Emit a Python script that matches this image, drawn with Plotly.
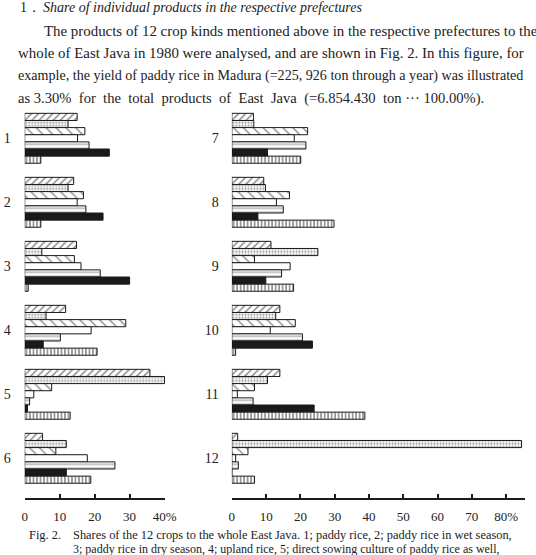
import plotly.graph_objects as go

W, H = 536, 555

# ---- data (percent share of East Java total), 12 crops x 7 bars ----
crops = ["1", "2", "3", "4", "5", "6", "7", "8", "9", "10", "11", "12"]
series_names = ["Pref. 1", "Pref. 2", "Pref. 3", "Pref. 4", "Pref. 5", "Pref. 6", "Pref. 7"]
s1 = [15.0, 14.0, 14.8, 11.7, 35.8, 5.1, 6.3, 9.3, 11.4, 14.0, 14.0, 1.7]
s2 = [12.4, 12.4, 4.9, 6.1, 40.0, 11.9, 6.4, 9.8, 25.1, 12.8, 10.4, 84.5]
s3 = [17.2, 16.8, 14.2, 28.9, 7.7, 8.9, 22.1, 16.8, 6.6, 18.5, 6.6, 4.7]
s4 = [15.1, 15.0, 16.1, 19.0, 2.6, 17.9, 18.2, 13.0, 17.0, 11.2, 1.6, 1.1]
s5 = [18.4, 17.5, 21.6, 10.2, 1.4, 25.8, 21.6, 15.0, 14.5, 20.6, 6.2, 1.9]
s6 = [24.2, 22.4, 30.0, 5.3, 0.8, 11.9, 10.4, 7.6, 9.9, 23.5, 24.0, 0.0]
s7 = [4.6, 4.6, 1.0, 20.7, 13.0, 18.9, 20.1, 29.8, 18.0, 1.1, 38.8, 6.6]
series = [s1, s2, s3, s4, s5, s6, s7]

left_ticks = [0, 10, 20, 30, 40]
left_ticktext = ["0", "10", "20", "30", "40%"]
right_ticks = [0, 10, 20, 30, 40, 50, 60, 70, 80]
right_ticktext = ["0", "10", "20", "30", "40", "50", "60", "70", "80%"]

# ---- styles ----
INK = "#1a1a1a"
styles = [
    dict(color="white", pattern=dict(shape="/", size=5, solidity=0.3, fgcolor=INK, bgcolor="white")),
    dict(color="white", pattern=dict(shape=".", size=3, solidity=0.35, fgcolor=INK, bgcolor="white")),
    dict(color="white", pattern=dict(shape="\\", size=7, solidity=0.2, fgcolor=INK, bgcolor="white")),
    dict(color="white"),
    dict(color="white", pattern=dict(shape="-", size=4, solidity=0.25, fgcolor=INK, bgcolor="white")),
    dict(color=INK),
    dict(color="white", pattern=dict(shape="|", size=3.5, solidity=0.45, fgcolor=INK, bgcolor="white")),
]

fig = go.Figure()
for panel, (xa, ya, lo, hi) in enumerate([("x", "y", 0, 6), ("x2", "y2", 6, 12)]):
    for name, vals, st in zip(series_names, series, styles):
        fig.add_trace(go.Bar(
            x=vals[lo:hi], y=crops[lo:hi], orientation="h", name=name,
            xaxis=xa, yaxis=ya, showlegend=False,
            marker=dict(line=dict(color=INK, width=1), **st),
        ))

def px(x):
    return x / W

def py(y):
    return 1 - y / H

serif = "Liberation Serif, Times New Roman, serif"
ydom = [py(490.3), py(106.3)]
axis_y = py(499)

fig.update_layout(
    width=W, height=H,
    margin=dict(l=0, r=0, t=0, b=0),
    paper_bgcolor="white", plot_bgcolor="white",
    barmode="group", bargap=0.22, bargroupgap=0.0,
    font=dict(family=serif, color="#222222"),
    xaxis=dict(domain=[px(22.3), px(22.3 + 40.25 * 3.59)], range=[0, 40.25],
               anchor="free", position=axis_y,
               showline=True, linecolor=INK, linewidth=1.5,
               ticks="inside", ticklen=4, tickwidth=1.5, tickcolor=INK,
               tickvals=left_ticks, ticktext=left_ticktext,
               tickfont=dict(size=13, family=serif, color="#222222"),
               ticklabelstandoff=6,
               showgrid=False, zeroline=False),
    yaxis=dict(domain=ydom, categoryorder="array", categoryarray=crops[0:6],
               range=[5.5, -0.5], showline=False, showgrid=False, zeroline=False,
               ticks="", ticklabelstandoff=13,
               tickfont=dict(size=14, family=serif, color="#222222"), anchor="x"),
    xaxis2=dict(domain=[px(235), 1.0], range=[0, (536 - 235) / 3.52],
                anchor="free", position=axis_y,
                showline=True, linecolor=INK, linewidth=1.5,
                ticks="inside", ticklen=4, tickwidth=1.5, tickcolor=INK,
                tickvals=right_ticks, ticktext=right_ticktext,
                tickfont=dict(size=13, family=serif, color="#222222"),
                ticklabelstandoff=6,
                showgrid=False, zeroline=False),
    yaxis2=dict(domain=ydom, categoryorder="array", categoryarray=crops[6:12],
                range=[5.5, -0.5], showline=False, showgrid=False, zeroline=False,
                ticks="", ticklabelstandoff=12,
                tickfont=dict(size=14, family=serif, color="#222222"), anchor="x2"),
)

text_lines = [
    (15, 7.5, "1．", 14),
    (39, 7.5, "<i>Share of individual products in the respective prefectures</i>", 14),
    (40, 30.7, "The products of 12 crop kinds mentioned above in the respective prefectures to the", 14.9),
    (13, 52.7, "whole of East Java in 1980 were analysed, and are shown in Fig. 2. In this figure, for", 14.9),
    (13, 75.7, "example, the yield of paddy rice in Madura (=225, 926 ton through a year) was illustrated", 14.1),
    (13, 98.3, "as 3.30%  for  the  total  products  of  East  Java  (=6.854.430  ton ··· 100.00%).".replace("  ", " &nbsp;"), 14.6),
    (25, 535, "Fig. 2.", 12.4),
    (70, 535, "Shares of the 12 crops to the whole East Java. 1; paddy rice, 2; paddy rice in wet season,", 12.4),
    (70, 548.5, "3; paddy rice in dry season, 4; upland rice, 5; direct sowing culture of paddy rice as well,", 12.0),
]
for x, y, t, s in text_lines:
    fig.add_annotation(x=px(x), y=py(y), xref="paper", yref="paper", text=t,
                       showarrow=False, xanchor="left", yanchor="middle",
                       font=dict(size=s, family=serif, color="#222222"))

fig.write_html("out.html")
